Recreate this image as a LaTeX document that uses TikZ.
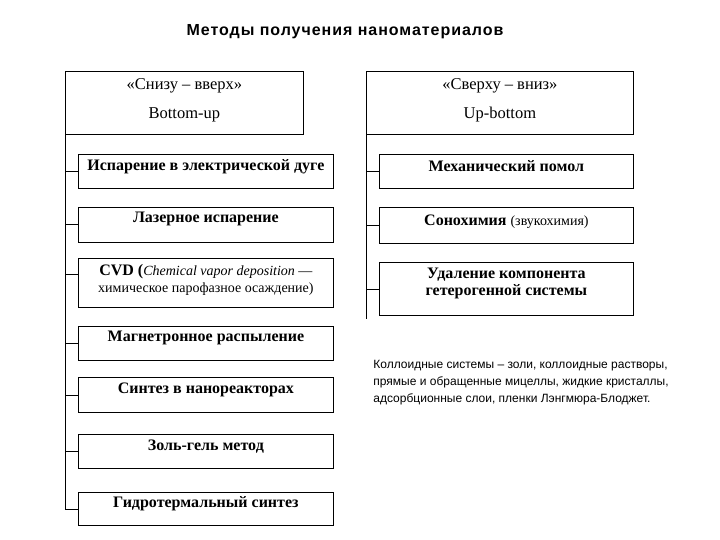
\documentclass[tikz,border=0pt]{standalone}
\usepackage{fontspec}
\setmainfont{Liberation Serif}
\newfontfamily\sansfont{Liberation Sans}
\newfontfamily\titlefont[LetterSpace=6]{Liberation Sans}
\usetikzlibrary{calc}
\tikzset{
  box_/.style   = {shape=rectangle, draw, anchor=north west, inner sep=0pt,
                   font=\bfseries\fontsize{16}{17}\selectfont},
  head_/.style  = {box_, font=\fontsize{16.5}{29}\selectfont},
  title_/.style = {font=\titlefont\bfseries\fontsize{16}{18}\selectfont},
  note_/.style  = {anchor=north west, inner sep=0pt, align=left,
                   font=\sansfont\fontsize{12}{17}\selectfont}
}
% width, height, baseline from top, text
\newcommand\cell[4]{\parbox[c][#2][t]{#1}{\centering\rule{0pt}{#3}#4}}
\newcommand\thin{\mdseries\fontsize{14}{17}\selectfont}

\begin{document}
\begin{tikzpicture}[x=1pt, y=-1pt, line width=0.8pt]
  \useasboundingbox (0,0) rectangle (720,540);

  \node [title_] (title) at (345,32) {Методы получения наноматериалов};

  % heads
  \node [head_] (lhead) at (65,71)  {\cell{238pt}{63pt}{18pt}{«Снизу – вверх»\\Bottom-up}};
  \node [head_] (rhead) at (366,71) {\cell{267pt}{63pt}{18pt}{«Сверху – вниз»\\Up-bottom}};

  % bottom-up
  \node [box_] (l1) at (78,154) {\cell{255pt}{34pt}{16pt}{Испарение в электрической дуге}};
  \node [box_] (l2) at (78,207) {\cell{255pt}{35pt}{15pt}{Лазерное испарение}};
  \node [box_] (l3) at (78,258) {\cell{255pt}{49pt}{17pt}{CVD ({\thin\itshape
    Chemical vapor deposition \upshape —\\ химическое парофазное осаждение)}}};
  \node [box_] (l4) at (78,326) {\cell{255pt}{34pt}{15pt}{Магнетронное распыление}};
  \node [box_] (l5) at (78,377) {\cell{255pt}{35pt}{16pt}{Синтез в нанореакторах}};
  \node [box_] (l6) at (78,434) {\cell{255pt}{34pt}{16pt}{Золь-гель метод}};
  \node [box_] (l7) at (78,492) {\cell{255pt}{33pt}{15pt}{Гидротермальный синтез}};

  % up-bottom
  \node [box_] (r1) at (379,154) {\cell{254pt}{34pt}{17pt}{Механический помол}};
  \node [box_] (r2) at (379,207) {\cell{254pt}{36pt}{18pt}{Сонохимия {\thin (звукохимия)}}};
  \node [box_] (r3) at (379,262) {\cell{254pt}{53pt}{16pt}{Удаление компонента\\гетерогенной системы}};

  \node [note_] (note) at (373,360) {Коллоидные системы – золи, коллоидные растворы,\\
    прямые и обращенные мицеллы, жидкие кристаллы,\\
    адсорбционные слои, пленки Лэнгмюра-Блоджет.};

  % connectors
  \draw (lhead.south west) |- (l7.west);
  \foreach \b in {l1,l2,l4,l5,l6}
    \draw (lhead.south west |- \b.west) -- (\b.west);
  \coordinate (l3tick) at ($(l3.north west)+(0,16)$);
  \draw (lhead.south west |- l3tick) -- (l3tick);

  \coordinate (rend) at ($(rhead.south west |- r3.south west)+(0,3)$);
  \draw (rhead.south west) -- (rend);
  \foreach \b in {r1,r2,r3}
    \draw (rhead.south west |- \b.west) -- (\b.west);
\end{tikzpicture}
\end{document}
